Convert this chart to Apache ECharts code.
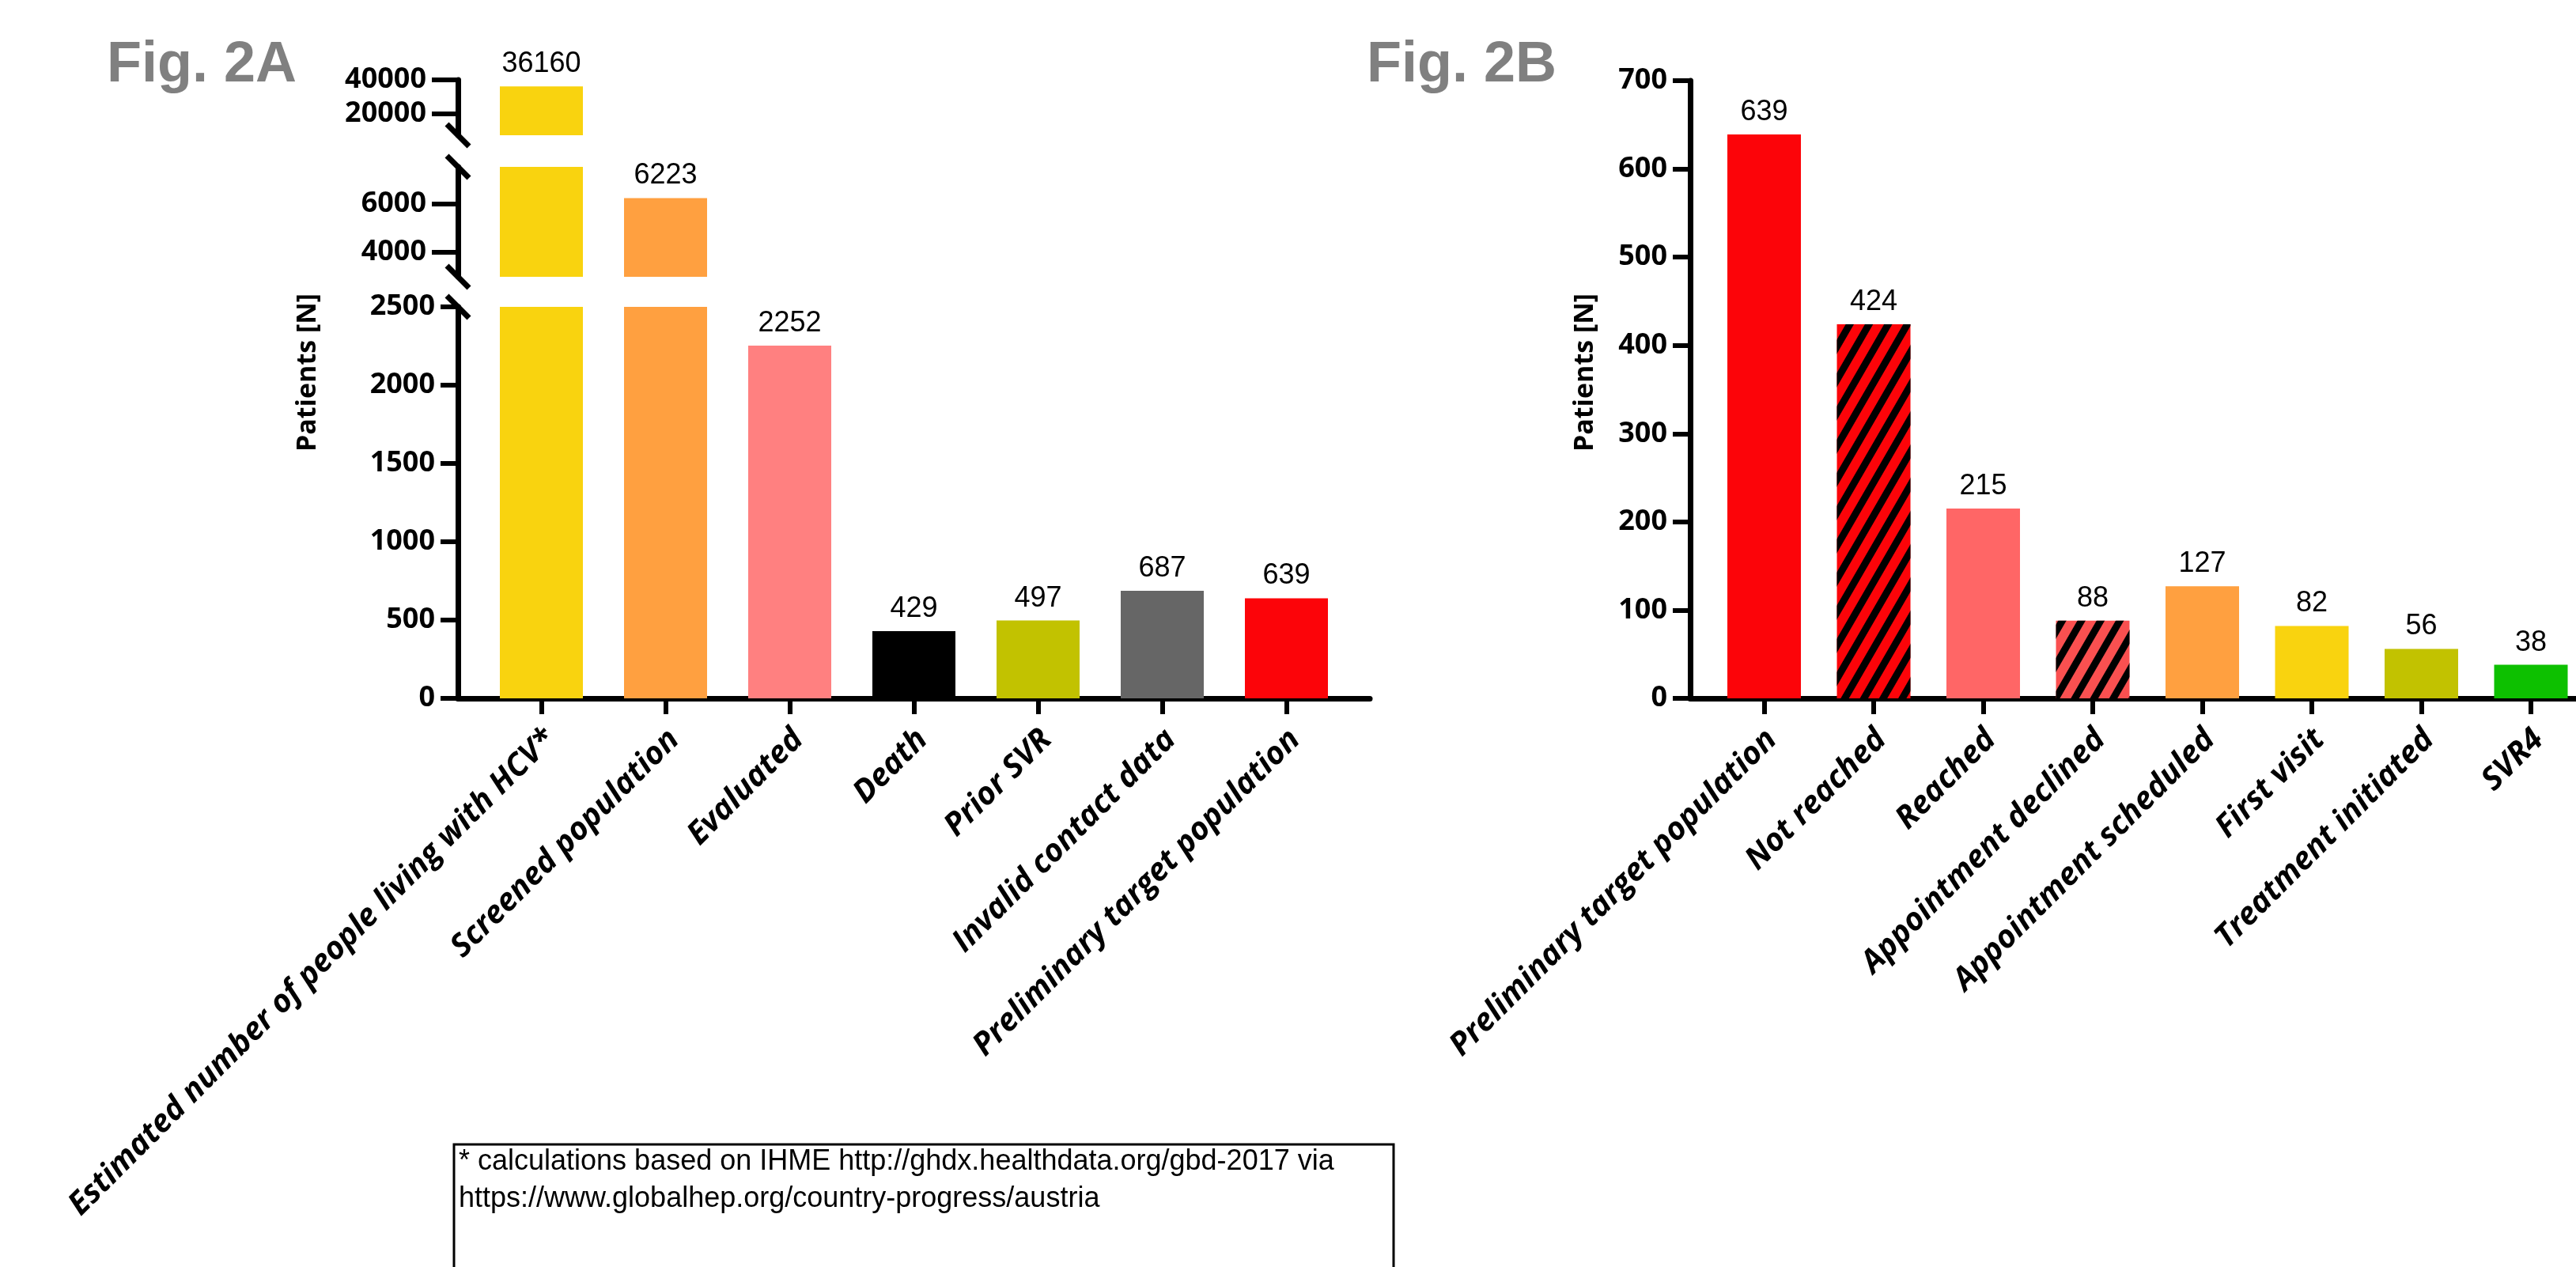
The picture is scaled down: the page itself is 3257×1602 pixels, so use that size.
<!DOCTYPE html>
<html><head><meta charset="utf-8">
<script src="https://cdn.jsdelivr.net/npm/echarts@6/dist/echarts.min.js"></script>
<style>html,body{margin:0;padding:0;background:#fff}#c{width:3257px;height:1602px}</style>
</head><body><div id="c"></div>
<script>
// ---------- DATA ----------
const categoriesA = ['Estimated number of people living with HCV*', 'Screened population', 'Evaluated', 'Death', 'Prior SVR', 'Invalid contact data', 'Preliminary target population'];
const valuesA = [36160, 6223, 2252, 429, 497, 687, 639];
const colorsA = ['#F9D30F', '#FFA040', '#FF8080', '#000000', '#C2C200', '#666666', '#FC0409'];
const ticksTopA = [20000, 40000];
const ticksMidA = [4000, 6000];
const ticksBottomA = [0, 500, 1000, 1500, 2000, 2500];

const categoriesB = ['Preliminary target population', 'Not reached', 'Reached', 'Appointment declined', 'Appointment scheduled', 'First visit', 'Treatment initiated', 'SVR4'];
const valuesB = [639, 424, 215, 88, 127, 82, 56, 38];
const colorsB = ['#FC0409', '#FC0409', '#FF6666', '#FA5050', '#FFA040', '#F9D30F', '#C2C200', '#0DC000'];
const hatchedB = [false, true, false, true, false, false, false, false];
const ticksB = [0, 100, 200, 300, 400, 500, 600, 700];

const titleA = 'Fig. 2A';
const titleB = 'Fig. 2B';
const yNameText = 'Patients [N]';
const footnoteLines = ['* calculations based on IHME http://ghdx.healthdata.org/gbd-2017 via', 'https://www.globalhep.org/country-progress/austria'];

// ---------- LAYOUT ----------
const BOLD = '"Open Sans", "DejaVu Sans", sans-serif';
const ARIAL = '"Liberation Sans", Arial, sans-serif';
const A = { axisX: 579, right: 1732, first: 684.5, unit: 157, barW: 105,
  segs: [
    { top: 101, bottom: 171, min: 7500, max: 40000, ticks: ticksTopA, tickLen: 33 },
    { top: 211, bottom: 350, min: 3000, max: 7500, ticks: ticksMidA, tickLen: 33 },
    { top: 388, bottom: 883, min: 0, max: 2500, ticks: ticksBottomA, tickLen: 22 }
  ] };
const B = { axisX: 2137, right: 3293.5, top: 102, bottom: 883, first: 2230.5, unit: 138.5, barW: 93, min: 0, max: 700, tickLen: 22 };
const LABEL_MARGIN = 46;
const LABEL_SHIFT = 0.07;
const TICK_LABEL_GAP = 7;

const catLabelStyle = { fontFamily: BOLD, fontWeight: 'bold', fontStyle: 'italic', fontSize: 40, color: '#000', rotate: 45, margin: LABEL_MARGIN };
const valueLabel = { show: true, position: 'top', distance: 10, fontFamily: ARIAL, fontSize: 36, color: '#000', formatter: p => String(p.value[1]) };

const grids = [], xAxes = [], yAxes = [], series = [];

function xAxisFor(gridIndex, cats, P, showAxis) {
  const idx = cats.map((_, i) => i);
  return {
    type: 'value', gridIndex, min: (P.axisX - P.first) / P.unit, max: (P.right - P.first) / P.unit,
    show: showAxis,
    splitLine: { show: false },
    axisLine: { show: true, onZero: false, lineStyle: { color: '#000', width: 7 } },
    axisTick: { show: true, customValues: idx, length: 20, lineStyle: { color: '#000', width: 6 } },
    axisLabel: Object.assign({ customValues: idx.map(i => i + LABEL_SHIFT), formatter: v => cats[Math.round(v)] || '' }, catLabelStyle)
  };
}
function yAxisFor(gridIndex, s) {
  return {
    type: 'value', gridIndex, min: s.min, max: s.max,
    splitLine: { show: false },
    axisLine: { show: true, onZero: false, lineStyle: { color: '#000', width: 7 } },
    axisTick: { show: true, customValues: s.ticks, length: s.tickLen, lineStyle: { color: '#000', width: 6 } },
    axisLabel: { customValues: s.ticks, formatter: v => String(v), fontFamily: BOLD, fontWeight: 'bold', fontSize: 36, color: '#000', margin: s.tickLen + TICK_LABEL_GAP }
  };
}

// Fig 2A: three stacked segments (broken axis)
A.segs.forEach((s, k) => {
  grids.push({ left: A.axisX, width: A.right - A.axisX, top: s.top, height: s.bottom - s.top, outerBoundsMode: 'none', containLabel: false });
  xAxes.push(xAxisFor(k, categoriesA, A, k === A.segs.length - 1));
  yAxes.push(yAxisFor(k, s));
  series.push({
    type: 'bar', xAxisIndex: k, yAxisIndex: k, barWidth: A.barW, clip: true, animation: false,
    label: valueLabel,
    data: valuesA.map((v, i) => ({ v, i })).filter(d => d.v > s.min).map(d => ({
      value: [d.i, d.v], itemStyle: { color: colorsA[d.i] }, label: { show: d.v <= s.max }
    }))
  });
});

// Fig 2B
const kB = grids.length;
grids.push({ left: B.axisX, width: B.right - B.axisX, top: B.top, height: B.bottom - B.top, outerBoundsMode: 'none', containLabel: false });
xAxes.push(xAxisFor(kB, categoriesB, B, true));
yAxes.push(yAxisFor(kB, { min: B.min, max: B.max, ticks: ticksB, tickLen: B.tickLen }));
series.push({
  type: 'bar', xAxisIndex: kB, yAxisIndex: kB, barWidth: B.barW, clip: true, animation: false,
  label: valueLabel,
  data: valuesB.map((v, i) => ({
    value: [i, v],
    itemStyle: Object.assign({ color: colorsB[i] }, hatchedB[i] ? { decal: {
      symbol: 'rect', symbolSize: 1, dashArrayX: [1, 0], dashArrayY: [9, 12], rotation: -Math.PI * 60 / 180, color: '#000'
    } } : {})
  }))
});

// ---------- DECORATIONS ----------
const graphics = [];
function txt(x, y, text, style, rot) {
  graphics.push({ type: 'text', x, y, rotation: rot || 0, silent: true, style: Object.assign({ text, fill: '#000' }, style) });
}
txt(135, 83, titleA, { font: 'bold 72px "Liberation Sans", Arial, sans-serif', fill: '#808080', textAlign: 'left', textVerticalAlign: 'middle' });
txt(1728, 83, titleB, { font: 'bold 72px "Liberation Sans", Arial, sans-serif', fill: '#808080', textAlign: 'left', textVerticalAlign: 'middle' });
txt(389, 471, yNameText, { font: 'bold 34px "Open Sans", sans-serif', textAlign: 'center', textVerticalAlign: 'middle' }, Math.PI / 2);
txt(2004, 471, yNameText, { font: 'bold 34px "Open Sans", sans-serif', textAlign: 'center', textVerticalAlign: 'middle' }, Math.PI / 2);
// axis break marks
[A.segs[0].bottom, A.segs[1].top, A.segs[1].bottom, A.segs[2].top].forEach(cy => {
  graphics.push({ type: 'line', silent: true, shape: { x1: A.axisX - 14, y1: cy - 14, x2: A.axisX + 14, y2: cy + 14 }, style: { stroke: '#000', lineWidth: 7 } });
});
// footnote box
graphics.push({ type: 'rect', silent: true, shape: { x: 574, y: 1447, width: 1188, height: 200 }, style: { fill: 'none', stroke: '#000', lineWidth: 3 } });
footnoteLines.forEach((t, i) => txt(580, 1469 + i * 47, t, { font: '36px "Liberation Sans", Arial, sans-serif', textAlign: 'left', textVerticalAlign: 'middle' }));

const chart = echarts.init(document.getElementById('c'), null, { renderer: 'canvas' });
chart.setOption({
  backgroundColor: '#fff',
  animation: false,
  grid: grids, xAxis: xAxes, yAxis: yAxes, series, graphic: graphics
});
</script></body></html>
